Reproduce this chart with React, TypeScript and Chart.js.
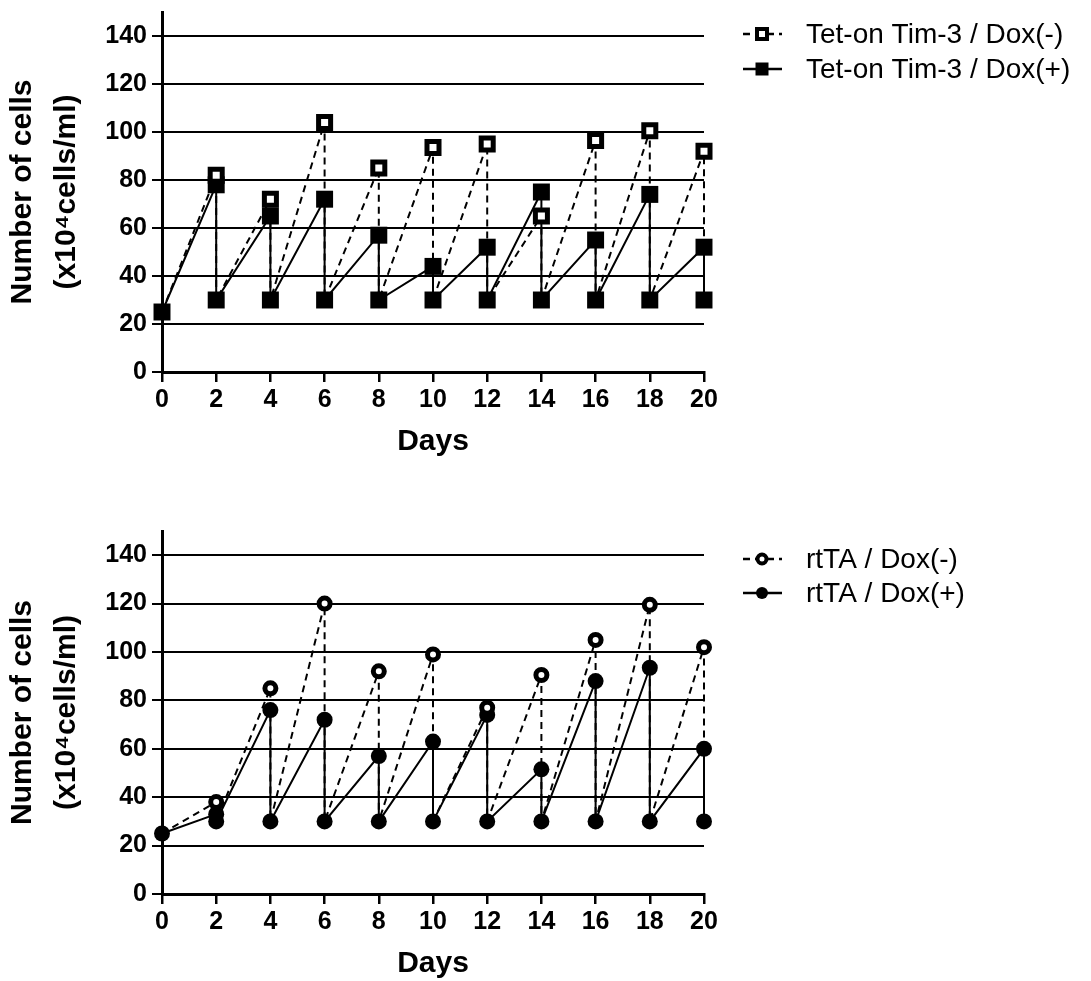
import React, { useEffect, useRef } from 'react';
import { Chart, registerables } from 'chart.js';

Chart.register(...registerables);

// ---- data ----
const days = [0, 2, 4, 6, 8, 10, 12, 14, 16, 18, 20];
const reseedLevel = 30;
const timNegPeaks = [25, 82, 72, 104, 85, 93.5, 95, 65, 96.5, 100.5, 92];
const timPosPeaks = [25, 78, 65, 72, 57, 44, 52, 75, 55, 74, 52];
const rtNegPeaks = [25, 38, 85, 120, 92, 99, 77, 90.5, 105, 119.5, 102];
const rtPosPeaks = [25, 33, 76, 72, 57, 63, 74, 51.5, 88, 93.5, 60];
const yTicks = [0, 20, 40, 60, 80, 100, 120, 140];
const xTicks = [0, 2, 4, 6, 8, 10, 12, 14, 16, 18, 20];
const labelsTop = ['Tet-on Tim-3 / Dox(-)', 'Tet-on Tim-3 / Dox(+)'];
const labelsBottom = ['rtTA / Dox(-)', 'rtTA / Dox(+)'];
const xTitle = 'Days';
const yTitle = ['Number of cells', '(x10\u2074cells/ml)'];

const FAMILY = '"Liberation Sans", Arial, Helvetica, sans-serif';

function sawtooth(peaks: number[]) {
  const pts: { x: number; y: number }[] = [{ x: days[0], y: peaks[0] }];
  for (let i = 1; i < days.length; i++) {
    pts.push({ x: days[i], y: peaks[i] });
    pts.push({ x: days[i], y: reseedLevel });
  }
  return pts;
}

const lineLegend = {
  id: 'lineLegend',
  afterDraw(chart: any, _args: any, opts: any) {
    const ctx = chart.ctx as CanvasRenderingContext2D;
    ctx.save();
    chart.data.datasets.forEach((ds: any, i: number) => {
      const y = opts.rows[i];
      ctx.beginPath();
      ctx.setLineDash(ds.borderDash || []);
      ctx.lineWidth = 2.5;
      ctx.strokeStyle = '#000';
      ctx.moveTo(opts.x1, y);
      ctx.lineTo(opts.x2, y);
      ctx.stroke();
      ctx.setLineDash([]);
      const cx = opts.mx;
      const m = ds.legendMarker;
      ctx.beginPath();
      if (ds.pointStyle === 'rect') {
        const s = m.size;
        ctx.rect(cx - s / 2, y - s / 2, s, s);
      } else {
        ctx.arc(cx, y, m.size / 2, 0, Math.PI * 2);
      }
      ctx.fillStyle = ds.pointBackgroundColor;
      ctx.fill();
      if (m.bw > 0) {
        ctx.lineWidth = m.bw;
        ctx.strokeStyle = '#000';
        ctx.stroke();
      }
      ctx.fillStyle = '#000';
      ctx.font = `28px ${FAMILY}`;
      ctx.textBaseline = 'middle';
      ctx.textAlign = 'left';
      ctx.fillText(ds.label, opts.textX, y + 1);
    });
    ctx.restore();
  },
};

type PanelProps = {
  top: number;
  height: number;
  negPeaks: number[];
  posPeaks: number[];
  labels: string[];
  kind: 'rect' | 'circle';
  legendRows: number[];
};

function Panel({ top, height, negPeaks, posPeaks, labels, kind, legendRows }: PanelProps) {
  const ref = useRef<HTMLCanvasElement | null>(null);
  useEffect(() => {
    if (!ref.current) return;
    const isRect = kind === 'rect';
    const negR = isRect ? 8.5 : 5.5;
    const negBW = 5;
    const posR = isRect ? 12 : 8;
    const tickFont = { family: FAMILY, size: 25, weight: 'bold' as const };
    const chart = new Chart(ref.current, {
      type: 'line',
      data: {
        datasets: [
          {
            label: labels[0],
            data: sawtooth(negPeaks),
            borderColor: '#000',
            borderWidth: 2,
            borderDash: [7, 5],
            pointStyle: kind,
            pointRadius: (c: any) => (c.dataIndex % 2 === 1 ? negR : 0),
            pointHoverRadius: (c: any) => (c.dataIndex % 2 === 1 ? negR : 0),
            pointBackgroundColor: '#fff',
            pointBorderColor: '#000',
            pointBorderWidth: negBW,
            tension: 0,
            fill: false,
            clip: false,
            legendMarker: isRect ? { size: 10, bw: 4 } : { size: 9, bw: 4 },
          } as any,
          {
            label: labels[1],
            data: sawtooth(posPeaks),
            borderColor: '#000',
            borderWidth: 2,
            pointStyle: kind,
            pointRadius: posR,
            pointHoverRadius: posR,
            pointBackgroundColor: '#000',
            pointBorderColor: '#000',
            pointBorderWidth: 0,
            tension: 0,
            fill: false,
            clip: false,
            legendMarker: isRect ? { size: 13, bw: 0 } : { size: 12, bw: 0 },
          } as any,
        ],
      },
      options: {
        responsive: false,
        animation: false,
        events: [],
        layout: { padding: { left: 0, top: 9, right: 387, bottom: 0 } },
        plugins: {
          legend: { display: false },
          tooltip: { enabled: false },
          lineLegend: { x1: 743, x2: 782, mx: 762, textX: 806, rows: legendRows },
        } as any,
        scales: {
          x: {
            type: 'linear',
            min: 0,
            max: 20,
            afterBuildTicks: (s: any) => {
              s.ticks = xTicks.map((v) => ({ value: v }));
            },
            afterFit: (s: any) => {
              s.height = height - 372;
              s.paddingLeft = 0;
              s.paddingRight = 0;
            },
            ticks: { font: tickFont, color: '#000', padding: 3, maxRotation: 0, autoSkip: false },
            grid: { drawOnChartArea: false, drawTicks: true, tickLength: 10, color: '#000', lineWidth: 2.5 },
            border: { display: true, color: '#000', width: 3 },
            title: {
              display: true,
              text: xTitle,
              color: '#000',
              font: { family: FAMILY, size: 30, weight: 'bold' },
              padding: { top: 0, bottom: height - 460 },
            },
          },
          y: {
            type: 'linear',
            min: 0,
            max: 150,
            afterBuildTicks: (s: any) => {
              s.ticks = yTicks.map((v) => ({ value: v }));
            },
            afterFit: (s: any) => {
              s.width = 162;
              s.paddingTop = 0;
              s.paddingBottom = 0;
            },
            ticks: { font: tickFont, color: '#000', padding: 5 },
            grid: { color: '#000', lineWidth: 2, drawTicks: true, tickLength: 10 },
            border: { display: true, color: '#000', width: 3 },
            title: {
              display: true,
              text: yTitle,
              color: '#000',
              font: { family: FAMILY, size: 30, weight: 'bold', lineHeight: 1.47 },
              padding: { top: 1, bottom: 0 },
            },
          },
        } as any,
      },
      plugins: [lineLegend],
    });
    return () => chart.destroy();
  }, []);
  return (
    <canvas
      ref={ref}
      width={1091}
      height={height}
      style={{ position: 'absolute', left: 0, top, width: 1091, height, display: 'block' }}
    />
  );
}

export default function App() {
  return (
    <div
      style={{
        position: 'fixed',
        left: 0,
        top: 0,
        width: 1091,
        height: 981,
        overflow: 'hidden',
        background: '#fff',
      }}
    >
      <Panel
        top={0}
        height={522}
        negPeaks={timNegPeaks}
        posPeaks={timPosPeaks}
        labels={labelsTop}
        kind="rect"
        legendRows={[34, 69]}
      />
      <Panel
        top={522}
        height={459}
        negPeaks={rtNegPeaks}
        posPeaks={rtPosPeaks}
        labels={labelsBottom}
        kind="circle"
        legendRows={[37, 71]}
      />
    </div>
  );
}
